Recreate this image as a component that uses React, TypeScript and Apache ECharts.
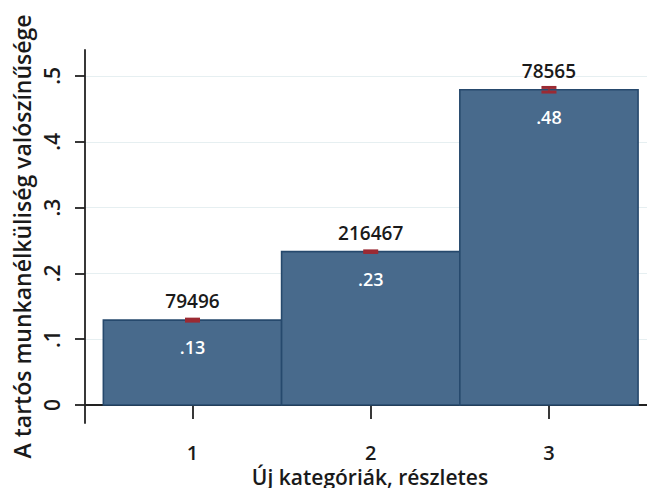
import React, { useEffect, useRef } from "react";
import * as echarts from "echarts";

const categories = [1, 2, 3];
const means = [0.129, 0.233, 0.479];
const counts = [79496, 216467, 78565];
const ciLow = [0.1275, 0.2318, 0.4755];
const ciHigh = [0.1305, 0.2342, 0.4825];
const yTicks = [0, 0.1, 0.2, 0.3, 0.4, 0.5];
const yTitle = "A tartós munkanélküliség valószínűsége";
const xTitle = "Új kategóriák, részletes";

const FONT = "'Open Sans', Lato, sans-serif";
const fmt = (v: number) => {
  const s = (Math.round(v * 100) / 100).toString();
  return s.startsWith("0.") ? s.slice(1) : s;
};

export default function App() {
  const ref = useRef<HTMLDivElement>(null);
  useEffect(() => {
    if (!ref.current) return;
    const chart = echarts.init(ref.current, undefined, { renderer: "svg" });
    const data = categories.map((c, i) => [c, means[i], counts[i], ciLow[i], ciHigh[i]]);
    chart.setOption({
      animation: false,
      backgroundColor: "#ffffff",
      grid: { left: 85, right: 0, top: 50, bottom: 73 },
      xAxis: {
        type: "value",
        min: 0.397,
        max: 3.595,
        name: xTitle,
        nameLocation: "middle",
        nameGap: 33,
        nameTextStyle: { fontFamily: FONT, fontSize: 21, fontWeight: 600, color: "#1a1a1a" },
        axisLine: { show: true, lineStyle: { color: "#222", width: 1.8 } },
        axisTick: { show: true, customValues: categories, length: 14, lineStyle: { color: "#222", width: 1.8 } },
        axisLabel: { customValues: categories, margin: 19, fontFamily: FONT, fontSize: 20, fontWeight: 600, color: "#1a1a1a", formatter: (v: number) => String(v) },
        splitLine: { show: false },
      },
      yAxis: {
        type: "value",
        min: -0.0273,
        max: 0.5394,
        name: yTitle,
        nameLocation: "middle",
        nameRotate: 90,
        nameGap: 48,
        nameTextStyle: { fontFamily: FONT, fontSize: 23, fontWeight: 600, color: "#1a1a1a" },
        axisLine: { show: true, lineStyle: { color: "#222", width: 1.8 } },
        axisTick: { show: true, customValues: yTicks, length: 10, lineStyle: { color: "#222", width: 1.8 } },
        axisLabel: { customValues: yTicks, rotate: 90, margin: 23, fontFamily: FONT, fontSize: 21, fontWeight: 600, color: "#1a1a1a", formatter: (v: number) => fmt(v) },
        splitLine: { show: true, lineStyle: { color: "#e6eff1", width: 1 } },
      },
      series: [
        {
          type: "custom",
          data,
          renderItem: (params: any, api: any) => {
            const x = api.value(0);
            const m = api.value(1);
            const n = api.value(2);
            const lo = api.value(3);
            const hi = api.value(4);
            const tl = api.coord([x - 0.5, m]);
            const br = api.coord([x + 0.5, 0]);
            const c = api.coord([x, m]);
            const pLo = api.coord([x, lo]);
            const pHi = api.coord([x, hi]);
            const cap = 7.5;
            return {
              type: "group",
              children: [
                {
                  type: "rect",
                  shape: { x: tl[0], y: tl[1], width: br[0] - tl[0], height: br[1] - tl[1] },
                  style: { fill: "#486a8c", stroke: "#26496d", lineWidth: 1.6 },
                },
                {
                  type: "line",
                  shape: { x1: c[0] - cap, y1: pHi[1], x2: c[0] + cap, y2: pHi[1] },
                  style: { stroke: "#9b2a33", lineWidth: 3 },
                },
                {
                  type: "line",
                  shape: { x1: c[0] - cap, y1: pLo[1], x2: c[0] + cap, y2: pLo[1] },
                  style: { stroke: "#9b2a33", lineWidth: 3 },
                },
                {
                  type: "line",
                  shape: { x1: c[0], y1: pLo[1], x2: c[0], y2: pHi[1] },
                  style: { stroke: "#9b2a33", lineWidth: 1.5 },
                },
                {
                  type: "text",
                  style: {
                    x: c[0], y: c[1] - 19, text: String(n), align: "center", verticalAlign: "middle",
                    fontFamily: FONT, fontSize: 19, fontWeight: 600, fill: "#1a1a1a",
                  },
                },
                {
                  type: "text",
                  style: {
                    x: c[0], y: c[1] + 27, text: fmt(m), align: "center", verticalAlign: "middle",
                    fontFamily: FONT, fontSize: 18, fontWeight: 600, fill: "#ffffff",
                  },
                },
              ],
            };
          },
        },
      ],
    });
    return () => chart.dispose();
  }, []);
  return <div ref={ref} style={{ width: 655, height: 496, margin: -8 }} />;
}
